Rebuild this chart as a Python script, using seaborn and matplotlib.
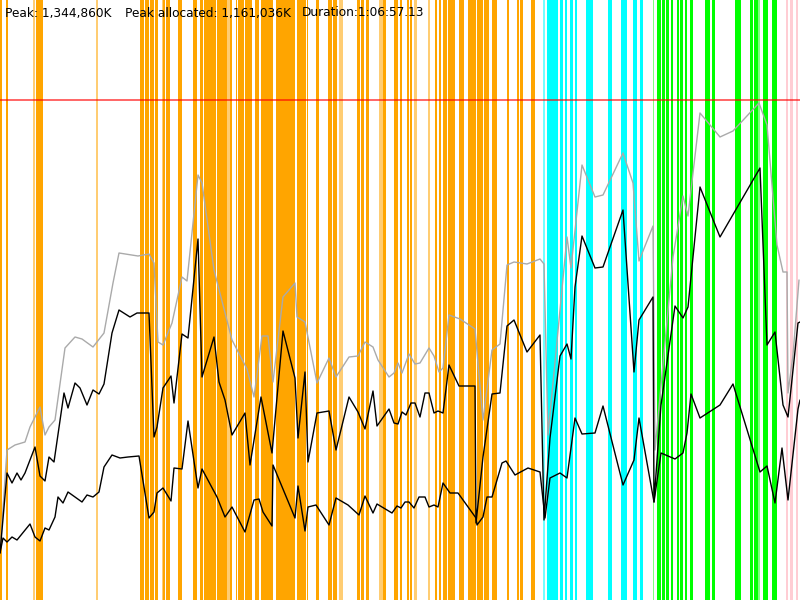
import matplotlib
matplotlib.use("Agg")
import matplotlib.pyplot as plt
import seaborn as sns
import pandas as pd

# ---- data (time in ticks 0..800, heap in units 0..600; peak = 500) ----
peak_level = 500

# GC event spans: start, end, kind  (O=orange, o=light orange, C=cyan, c=light cyan,
# G=green, g=light green, P=pink)
gc_start = [0, 6, 33, 36, 96, 140, 145, 150, 155, 161.7, 162.7, 166, 178.3, 193.3, 200, 204.3, 217.3,
            227.3, 230, 235.7, 238.3, 245, 255, 260.7, 276, 290, 297.3, 306.7, 316, 328, 333, 339,
            357, 361, 366, 379, 383, 394, 400, 407, 410, 414, 428, 435, 439, 443, 448, 459, 468, 477,
            484, 492, 507, 517, 520, 531,
            543, 547, 560, 565, 570, 575, 586, 608, 621, 633, 640,
            652.5, 657, 661.5, 665.5, 670.5, 677, 680, 685, 690, 705, 712, 735, 750, 754, 758, 763, 772,
            786, 790, 796]
gc_end = [2, 7.5, 35, 43, 97.5, 144, 149, 154, 158.3, 162.7, 165, 170, 181.7, 197.3, 203.3, 216, 227.3,
          230, 232, 237.3, 244, 252.3, 259, 273.3, 290, 295, 305.7, 308.3, 318.5, 332, 337, 343,
          359.5, 364, 368.5, 383, 386, 398, 402, 408.5, 412, 417, 430, 437, 441, 447, 455, 464, 476, 483,
          489, 497, 509, 519, 523, 535,
          545, 558, 563, 567, 573, 577, 593, 612, 627, 637, 643,
          654, 661, 665, 669, 673, 678.5, 683, 687, 693, 710, 715, 741, 753, 758, 760, 768, 777,
          788, 793, 798]
gc_kind = ["O", "O", "o", "O", "o", "O", "O", "O", "O", "o", "O", "O", "O", "O", "O", "O", "O",
           "o", "O", "O", "O", "O", "O", "O", "O", "O", "O", "O", "O", "O", "O", "o",
           "O", "O", "O", "o", "O", "O", "O", "O", "O", "o", "o", "O", "O", "O", "O", "O", "O", "O",
           "O", "O", "O", "O", "O", "O",
           "c", "C", "C", "C", "C", "C", "C", "C", "C", "C", "C",
           "g", "G", "G", "G", "G", "G", "G", "G", "G", "G", "G", "G", "G", "G", "g", "G", "G",
           "P", "P", "P"]

# used heap after GC (lower black)
low_t = [0, 3, 7, 12, 17, 30, 35, 40, 45, 49, 55, 58, 63, 68, 82, 87, 93, 99, 104, 112, 120, 128, 139,
         149, 154, 157, 163, 171, 174, 182, 188, 198, 202, 217, 225, 232, 245, 254, 259, 263, 272, 273,
         295, 298, 305, 308, 316, 329, 336, 348, 359, 365, 373, 377, 392, 397, 401, 405, 409, 414, 419,
         425, 429, 434, 438, 443, 450, 458, 476, 477, 483, 487, 492, 502, 506, 515, 528, 540, 545, 550,
         560, 567, 575, 582, 595, 603, 623, 634, 639, 654, 661, 675, 683, 687, 691, 700, 720, 733, 760,
         767, 775, 782, 788, 798, 800]
low_v = [47, 62, 58, 63, 60, 76, 63, 59, 72, 70, 83, 103, 97, 108, 98, 105, 103, 108, 133, 145, 142, 143, 144,
         82, 88, 107, 112, 99, 132, 131, 179, 112, 131, 103, 83, 93, 68, 100, 101, 88, 74, 135,
         82, 114, 69, 93, 95, 75, 102, 95, 85, 104, 87, 96, 87, 94, 92, 98, 98, 92, 103,
         103, 93, 95, 93, 117, 107, 107, 82, 75, 83, 103, 103, 137, 139, 125, 132, 128, 82, 122,
         127, 122, 182, 166, 167, 194, 115, 140, 182, 98, 147, 141, 147, 167, 206, 182, 195, 216, 128,
         134, 97, 152, 100, 191, 200]

# used heap (upper black)
up_t = [0, 7, 12, 17, 21, 25, 35, 40, 45, 49, 54, 64, 68, 75, 80, 87, 93, 99, 104, 112, 119, 130, 137,
        149, 154, 157, 163, 171, 174, 182, 188, 198, 202, 214, 219, 225, 232, 245, 250, 261, 272, 283,
        295, 298, 305, 308, 317, 329, 336, 349, 358, 365, 373, 377, 389, 394, 398, 402, 406, 411, 415,
        420, 425, 429, 434, 438, 443, 449, 459, 475, 476, 483, 492, 500, 507, 514, 527, 540, 544, 550,
        560, 567, 571, 575, 582, 595, 603, 623, 634, 639, 653, 654, 661, 675, 683, 688, 700, 720, 760,
        767, 775, 783, 788, 798, 800]
up_v = [47, 127, 117, 127, 120, 127, 153, 124, 119, 143, 138, 207, 192, 217, 212, 195, 210, 206, 216, 267,
        290, 283, 287, 287, 163, 173, 212, 224, 197, 266, 262, 361, 223, 263, 218, 200, 165, 187, 135,
        203, 147, 269, 222, 162, 228, 138, 187, 189, 150, 203, 188, 171, 209, 174, 191, 177, 176, 188,
        185, 197, 197, 183, 207, 207, 187, 189, 187, 235, 214, 214, 77, 143, 206, 207, 274, 280, 248,
        265, 80, 162, 244, 256, 241, 313, 364, 332, 333, 390, 228, 280, 303, 98, 195, 294, 282, 293,
        413, 363, 432, 255, 268, 195, 183, 277, 278]

# committed heap (grey)
com_t = [0, 7, 15, 25, 30, 40, 45, 49, 55, 65, 75, 82, 93, 104, 113, 119, 138, 149, 154, 158, 163, 172,
         182, 187, 198, 202, 214, 232, 247, 254, 262, 268, 273, 283, 295, 297, 305, 317, 329, 336, 349,
         358, 365, 373, 378, 389, 394, 398, 402, 409, 415, 420, 429, 434, 439, 443, 449, 460, 475, 483,
         492, 500, 507, 514, 527, 540, 544, 548, 567, 571, 582, 595, 603, 623, 633, 639, 653, 655, 673,
         683, 688, 700, 720, 733, 759, 767, 777, 783, 787, 788, 793, 799]
com_v = [47, 150, 155, 158, 173, 193, 165, 173, 180, 252, 263, 261, 253, 267, 317, 347, 344, 346, 337, 258,
         255, 277, 323, 319, 425, 417, 330, 260, 231, 203, 264, 264, 218, 303, 317, 283, 278, 217, 242,
         223, 243, 244, 258, 253, 240, 223, 227, 237, 227, 246, 236, 237, 252, 244, 228, 232, 285, 281,
         271, 180, 250, 256, 335, 338, 336, 341, 336, 165, 363, 332, 435, 403, 405, 447, 417, 339, 374,
         150, 343, 404, 384, 487, 463, 469, 497, 475, 355, 328, 328, 207, 245, 320]

peak_text = "Peak: 1,344,860K"
alloc_text = "Peak allocated: 1,161,036K"
dur_text = "Duration:1:06:57.13"

# ---- drawing ----
sns.set_style("white")
plt.rcParams["font.family"] = ["DejaVu Sans"]

fig = plt.figure(figsize=(8, 6), dpi=100)
ax = fig.add_axes([0, 0, 1, 1])

kind_color = {"O": ("#FFA500", 1.0), "o": ("#FFA500", 0.55),
              "C": ("#00FFFF", 1.0), "c": ("#00FFFF", 0.55),
              "G": ("#00FF00", 1.0), "g": ("#00FF00", 0.5),
              "P": ("#FFC8D0", 0.9)}
for s, e, k in zip(gc_start, gc_end, gc_kind):
    col, a = kind_color[k]
    ax.bar(s, 600, width=e - s, bottom=0, align="edge", color=col, alpha=a, linewidth=0)

ax.axhline(peak_level, color="#FF0000", lw=1.2, alpha=0.7, zorder=3)

df_com = pd.DataFrame({"t": com_t, "v": com_v})
df_up = pd.DataFrame({"t": up_t, "v": up_v})
df_low = pd.DataFrame({"t": low_t, "v": low_v})
sns.lineplot(data=df_com, x="t", y="v", ax=ax, color="#AAAAAA", lw=1.0, sort=False, estimator=None, zorder=4)
sns.lineplot(data=df_up, x="t", y="v", ax=ax, color="black", lw=1.0, sort=False, estimator=None, zorder=5)
sns.lineplot(data=df_low, x="t", y="v", ax=ax, color="black", lw=1.0, sort=False, estimator=None, zorder=5)
ax.set_xlim(0, 800)
ax.set_ylim(0, 600)
ax.axis("off")

fs = 8.7
ax.text(5, 587, peak_text, fontsize=fs, color="black", va="center", ha="left", zorder=6)
ax.text(125, 587, alloc_text, fontsize=fs, color="black", va="center", ha="left", zorder=6)
ax.text(302, 587, dur_text, fontsize=fs, color="black", va="center", ha="left", zorder=6)

fig.savefig("out.png", dpi=100)
